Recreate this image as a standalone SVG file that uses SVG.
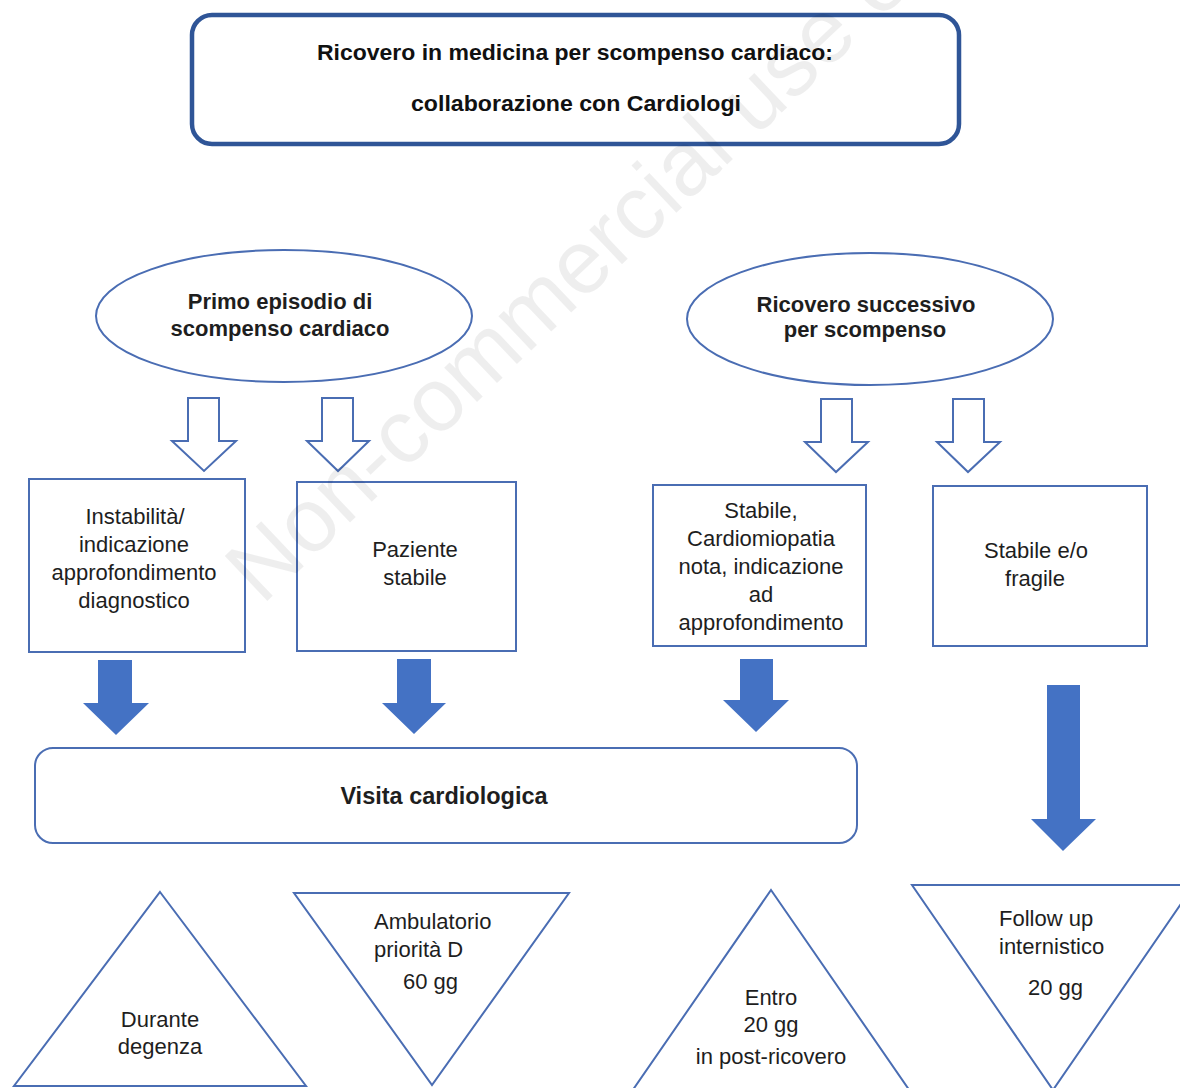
<svg xmlns="http://www.w3.org/2000/svg" width="1180" height="1088" viewBox="0 0 1180 1088">
  <style>
    .bg { fill: #ffffff; }
    .shape { fill: #ffffff; stroke: #4a6db3; stroke-width: 2; }
    .title-box { fill: #ffffff; stroke: #2f5597; stroke-width: 4.5; }
    .hollow { fill: #ffffff; stroke: #4a6db3; stroke-width: 2; stroke-linejoin: miter; }
    .solid { fill: #4472c4; stroke: none; }
    .t { font-family: "Liberation Sans", Arial, sans-serif; font-size: 22px; fill: #1e1e1e; }
    .c { text-anchor: middle; }
    .b { font-weight: bold; }
    .title { font-family: "Liberation Sans", Arial, sans-serif; font-size: 22px; font-weight: bold; fill: #111; text-anchor: middle; }
    .wm { font-family: "Liberation Sans", Arial, sans-serif; font-size: 90px; fill: #000; fill-opacity: 0.065; }
  </style>

  <rect class="bg" x="0" y="0" width="1180" height="1088"/>

  <!-- title -->
  <g id="title">
    <rect class="title-box" x="192" y="15" width="767" height="129" rx="20" ry="20"/>
    <text class="title" x="575" y="60" textLength="516" lengthAdjust="spacingAndGlyphs">Ricovero in medicina per scompenso cardiaco:</text>
    <text class="title" x="576" y="111" textLength="330" lengthAdjust="spacingAndGlyphs">collaborazione con Cardiologi</text>
  </g>

  <!-- entry points -->
  <g id="primo-episodio">
    <ellipse class="shape" cx="284" cy="316" rx="188" ry="66"/>
    <text class="t b c" x="280" y="309">Primo episodio di</text>
    <text class="t b c" x="280" y="336">scompenso cardiaco</text>
  </g>
  <g id="ricovero-successivo">
    <ellipse class="shape" cx="870" cy="319" rx="183" ry="66"/>
    <text class="t b c" x="866" y="312">Ricovero successivo</text>
    <text class="t b c" x="865" y="337">per scompenso</text>
  </g>

  <!-- patient conditions -->
  <g id="instabilita">
    <rect class="shape" x="29" y="479" width="216" height="173"/>
    <text class="t c" x="135" y="524">Instabilità/</text>
    <text class="t c" x="134" y="552">indicazione</text>
    <text class="t c" x="134" y="580">approfondimento</text>
    <text class="t c" x="134" y="608">diagnostico</text>
  </g>
  <g id="paziente-stabile">
    <rect class="shape" x="297" y="482" width="219" height="169"/>
    <text class="t c" x="415" y="557">Paziente</text>
    <text class="t c" x="415" y="585">stabile</text>
  </g>
  <g id="cardiomiopatia">
    <rect class="shape" x="653" y="485" width="213" height="161"/>
    <text class="t c" x="761" y="518">Stabile,</text>
    <text class="t c" x="761" y="546">Cardiomiopatia</text>
    <text class="t c" x="761" y="574">nota, indicazione</text>
    <text class="t c" x="761" y="602">ad</text>
    <text class="t c" x="761" y="630">approfondimento</text>
  </g>
  <g id="stabile-fragile">
    <rect class="shape" x="933" y="486" width="214" height="160"/>
    <text class="t c" x="1036" y="558">Stabile e/o</text>
    <text class="t c" x="1035" y="586">fragile</text>
  </g>

  <!-- cardiology visit -->
  <g id="visita">
    <rect class="shape" x="35" y="748" width="822" height="95" rx="18" ry="18"/>
    <text class="t b c" x="444" y="804" style="font-size:23.5px">Visita cardiologica</text>
  </g>

  <!-- timing outcomes -->
  <g id="durante-degenza">
    <polygon class="shape" points="160,892 306,1086 14,1086"/>
    <text class="t c" x="160" y="1027">Durante</text>
    <text class="t c" x="160" y="1054">degenza</text>
  </g>
  <g id="ambulatorio">
    <polygon class="shape" points="294,893 569,893 432,1085"/>
    <text class="t" x="374" y="929">Ambulatorio</text>
    <text class="t" x="374" y="957">priorità D</text>
    <text class="t" x="403" y="989">60 gg</text>
  </g>
  <g id="entro-20gg">
    <polygon class="shape" points="771,890 912,1094 630,1094"/>
    <text class="t c" x="771" y="1005">Entro</text>
    <text class="t c" x="771" y="1032">20 gg</text>
    <text class="t c" x="771" y="1064">in post-ricovero</text>
  </g>
  <g id="follow-up">
    <polygon class="shape" points="912,885 1194,885 1053,1090"/>
    <text class="t" x="999" y="926">Follow up</text>
    <text class="t" x="999" y="954">internistico</text>
    <text class="t" x="1028" y="995">20 gg</text>
  </g>

  <!-- connectors -->
  <g id="connectors">
    <path class="hollow" d="M188,398 H219 V441 H236 L204,471 L172,441 H188 Z"/>
    <path class="hollow" d="M322,398 H353 V441 H369 L338,471 L307,441 H322 Z"/>
    <path class="hollow" d="M821,399 H852 V442 H868 L836,472 L805,442 H821 Z"/>
    <path class="hollow" d="M953,399 H984 V442 H1000 L968,472 L937,442 H953 Z"/>

    <path class="solid" d="M98,660 H132 V703 H149 L116,735 L83,703 H98 Z"/>
    <path class="solid" d="M397,659 H431 V703 H446 L414,734 L382,703 H397 Z"/>
    <path class="solid" d="M740,659 H773 V700 H789 L756,732 L723,700 H740 Z"/>
    <path class="solid" d="M1047,685 H1080 V819 H1096 L1063,851 L1031,819 H1047 Z"/>
  </g>

  <!-- watermark -->
  <text class="wm" transform="translate(262,606) rotate(-43.5)">Non-commercial use only</text>
</svg>
